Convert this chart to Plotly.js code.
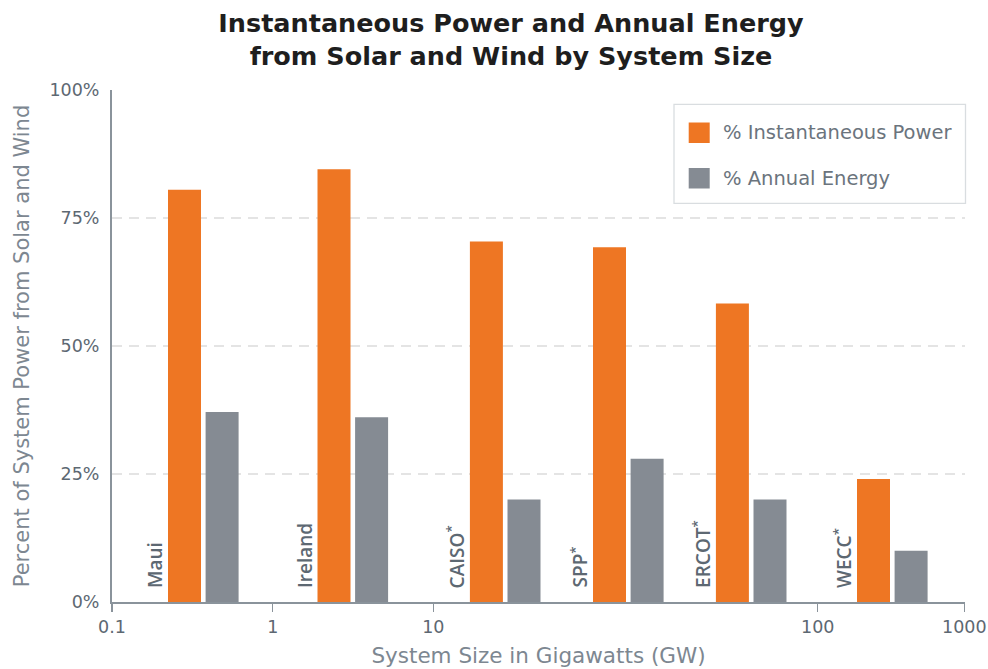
<!DOCTYPE html>
<html>
<head>
<meta charset="utf-8">
<script src="https://cdn.plot.ly/plotly-3.0.1.min.js"></script>
<style>html,body{margin:0;padding:0;background:#fff;}#chart{width:988px;height:669px;}</style>
</head>
<body>
<div id="chart"></div>
<script>
// ---- data ----
const regions = ['Maui', 'Ireland', 'CAISO<sup>*</sup>', 'SPP<sup>*</sup>', 'ERCOT<sup>*</sup>', 'WECC<sup>*</sup>'];
// position of each region group along the (hand-laid) system-size axis
const groupPos = [91.3, 240.8, 393.2, 516.3, 639.2, 780.3];
const instantaneousPower = [80.5, 84.5, 70.4, 69.3, 58.3, 24.0];
const annualEnergy = [37.1, 36.1, 20.0, 28.0, 20.0, 10.0];
const xTickPos = [0, 160.7, 321.3, 705.7, 852.3];
const xTickText = ['0.1', '1', '10', '100', '1000'];
const yTickVals = [0, 25, 50, 75, 100];
const yTickText = ['0%', '25%', '50%', '75%', '100%'];
const seriesNames = ['% Instantaneous Power', '% Annual Energy'];

// ---- style ----
const ORANGE = '#ee7623';
const GRAY = '#858b93';
const TEXT = '#5d6872';
const LIGHT = '#7d8791';
const FONT = '"DejaVu Sans", "Open Sans", sans-serif';
const LBLFONT = '"Open Sans", Lato, sans-serif';
const W = 988, H = 669;
const M = {l: 112, r: 23, t: 90, b: 67};
const plotW = W - M.l - M.r, plotH = H - M.t - M.b;
const barW = 33, halfGap = 2.3;
const px = x => (x - M.l) / plotW;
const py = y => (H - M.b - y) / plotH;

const traces = [
  {type: 'bar', name: seriesNames[0], x: groupPos, y: instantaneousPower,
   width: barW, offset: -(barW + halfGap), marker: {color: ORANGE}, showlegend: false, hoverinfo: 'y'},
  {type: 'bar', name: seriesNames[1], x: groupPos, y: annualEnergy,
   width: barW, offset: halfGap, marker: {color: GRAY}, showlegend: false, hoverinfo: 'y'}
];

const annotations = regions.map((r, i) => ({
  x: groupPos[i] - (barW + halfGap), y: 0, xref: 'x', yref: 'y',
  text: r, textangle: -90, showarrow: false,
  xanchor: 'right', yanchor: 'bottom', xshift: 2, yshift: 12,
  font: {family: LBLFONT, size: 19, color: TEXT, weight: 600}
}));

// manual legend
const legTexts = [[seriesNames[0], 132.5], [seriesNames[1], 178]];
legTexts.forEach(([t, y]) => annotations.push({
  x: px(721), y: py(y), xref: 'paper', yref: 'paper', text: t, showarrow: false,
  xanchor: 'left', yanchor: 'middle', font: {family: FONT, size: 19.5, color: '#6b747d'}
}));

const shapes = [
  {type: 'rect', xref: 'paper', yref: 'paper', x0: px(674), x1: px(965.5), y0: py(104.3), y1: py(203.3),
   line: {color: '#d9dde0', width: 1.3}, fillcolor: 'rgba(255,255,255,1)', layer: 'above'},
  {type: 'rect', xref: 'paper', yref: 'paper', x0: px(688.7), x1: px(709.7), y0: py(122.5), y1: py(143),
   line: {width: 0}, fillcolor: ORANGE, layer: 'above'},
  {type: 'rect', xref: 'paper', yref: 'paper', x0: px(688.7), x1: px(709.7), y0: py(168), y1: py(188.5),
   line: {width: 0}, fillcolor: GRAY, layer: 'above'}
];

const layout = {
  width: W, height: H, margin: M,
  paper_bgcolor: '#fff', plot_bgcolor: '#fff',
  barmode: 'overlay',
  font: {family: FONT, color: TEXT},
  title: {
    text: '<b>Instantaneous Power and Annual Energy<br>from Solar and Wind by System Size</b>',
    x: 511 / W, xref: 'container', xanchor: 'center',
    y: 1 - 32 / H, yref: 'container', yanchor: 'top',
    font: {family: FONT, size: 25.5, color: '#1e1e1e'}
  },
  xaxis: {
    range: [0, plotW], tickvals: xTickPos, ticktext: xTickText,
    showgrid: false, zeroline: false, showline: true, linecolor: '#8a939b', linewidth: 2,
    ticks: 'outside', ticklen: 8, tickwidth: 1.5, tickcolor: '#8a939b',
    tickfont: {family: FONT, size: 17.5, color: TEXT},
    title: {text: 'System Size in Gigawatts (GW)', font: {family: FONT, size: 21.5, color: LIGHT}, standoff: 12},
    fixedrange: true
  },
  yaxis: {
    range: [0, 100], tickvals: yTickVals, ticktext: yTickText,
    showgrid: true, gridcolor: '#e4e4e4', gridwidth: 1.5, griddash: '10px,7px',
    zeroline: false, showline: true, linecolor: '#8a939b', linewidth: 2,
    ticks: '', ticklabelstandoff: 7,
    tickfont: {family: FONT, size: 17.5, color: TEXT},
    title: {text: 'Percent of System Power from Solar and Wind', font: {family: FONT, size: 21, color: LIGHT}, standoff: 14},
    fixedrange: true
  },
  annotations: annotations,
  shapes: shapes
};

Plotly.newPlot('chart', traces, layout, {displayModeBar: false, staticPlot: true});
</script>
</body>
</html>
